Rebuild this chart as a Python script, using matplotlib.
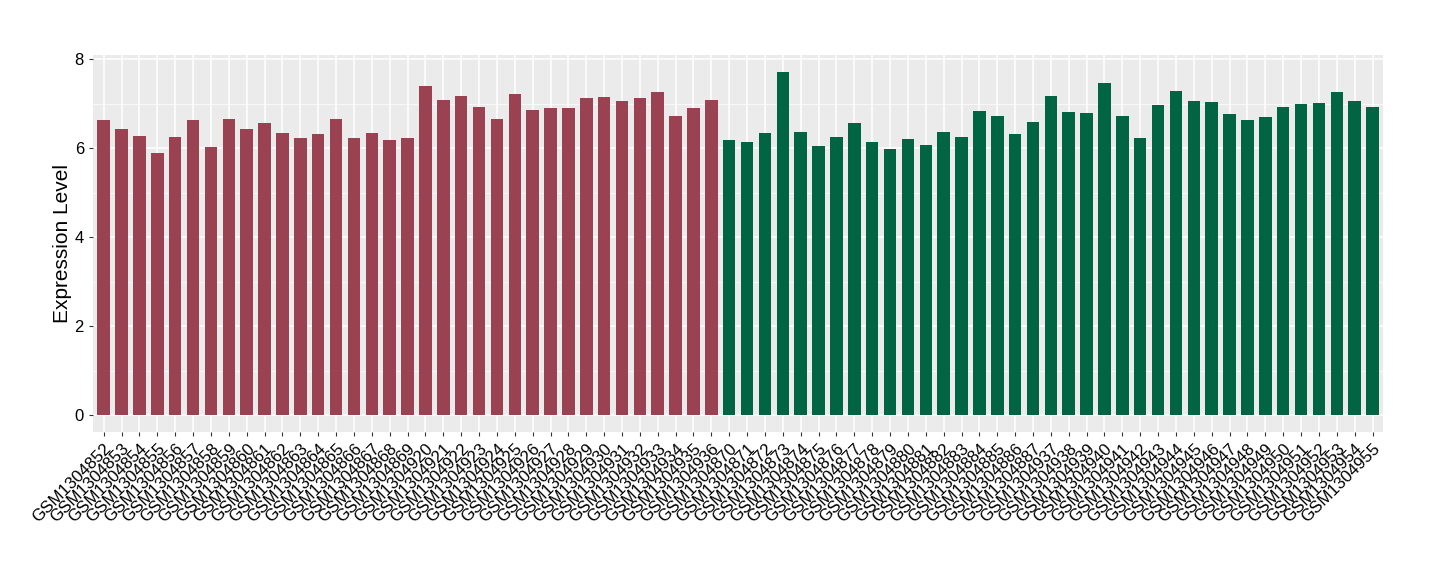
import numpy as np
import matplotlib
matplotlib.use("Agg")
import matplotlib.pyplot as plt
from matplotlib.ticker import MultipleLocator

plt.rcParams['font.family'] = ['Liberation Sans', 'DejaVu Sans']

red_samples = ["GSM%d" % n for n in list(range(1304852, 1304870)) + list(range(1304920, 1304937))]
red_values = [6.64, 6.43, 6.27, 5.89, 6.25, 6.64, 6.02, 6.66, 6.43, 6.56, 6.34, 6.22,
              6.31, 6.66, 6.22, 6.34, 6.18, 6.22, 7.39, 7.08, 7.17, 6.92, 6.66, 7.21,
              6.85, 6.90, 6.90, 7.12, 7.15, 7.06, 7.12, 7.26, 6.72, 6.90, 7.08]

green_samples = ["GSM%d" % n for n in list(range(1304870, 1304888)) + list(range(1304937, 1304956))]
green_values = [6.18, 6.13, 6.34, 7.71, 6.36, 6.04, 6.25, 6.56, 6.13, 5.98, 6.20, 6.07,
                6.36, 6.25, 6.83, 6.72, 6.31, 6.58, 7.17, 6.81, 6.79, 7.46, 6.72, 6.22,
                6.97, 7.28, 7.06, 7.03, 6.76, 6.63, 6.70, 6.92, 6.99, 7.01, 7.26, 7.06, 6.92]

labels = red_samples + green_samples
values = red_values + green_values
colors = ["#9A4251"] * len(red_values) + ["#016543"] * len(green_values)

fig = plt.figure(figsize=(14.4, 5.8), dpi=100)
ax = fig.add_axes([0.0646, 0.255, 0.896, 0.650])
ax.set_facecolor("#EBEBEB")

x = np.arange(len(values))
ax.bar(x, values, width=0.7, color=colors, zorder=3)

ymax = max(values)
ax.set_ylim(-0.05 * ymax, ymax * 1.05)
ax.set_xlim(-0.6, len(values) - 0.4)
ax.yaxis.set_major_locator(MultipleLocator(2))
ax.yaxis.set_minor_locator(MultipleLocator(1))
ax.set_xticks(x)
ax.set_xticklabels(labels, rotation=45, ha="right", rotation_mode="anchor", fontsize=12.2)
ax.tick_params(axis="y", labelsize=12, colors="#333333", length=3, width=0.8)
ax.tick_params(axis="y", which="minor", length=0)
ax.tick_params(axis="x", colors="#333333", length=3, width=0.8, labelcolor="black")
for lab in ax.get_yticklabels():
    lab.set_color("black")

ax.grid(True, which="major", color="white", linewidth=1.1, zorder=0)
ax.grid(True, which="minor", axis="y", color="white", linewidth=0.5, zorder=0)
ax.set_axisbelow(True)
for s in ax.spines.values():
    s.set_visible(False)

ax.set_ylabel("Expression Level", fontsize=15, labelpad=2)

fig.savefig("out.png", dpi=100)
